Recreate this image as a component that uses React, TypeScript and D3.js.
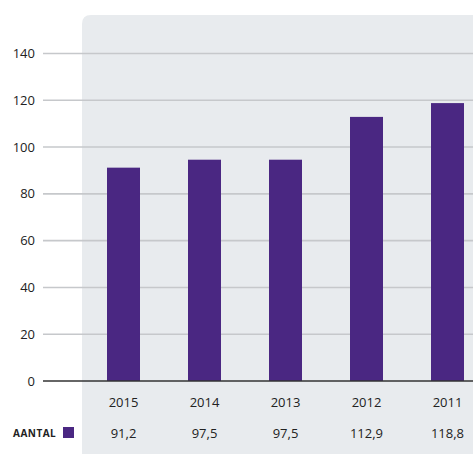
import React from "react";
import * as d3 from "d3";

const years = ["2015", "2014", "2013", "2012", "2011"];
const barValues = [91.2, 94.6, 94.6, 112.9, 118.8];
const valueLabels = ["91,2", "97,5", "97,5", "112,9", "118,8"];
const yTicks = [0, 20, 40, 60, 80, 100, 120, 140];
const seriesName = "AANTAL";

const W = 473;
const H = 454;
const PURPLE = "#4a2782";
const FONT = "'Open Sans', sans-serif";

export default function App() {
  const x = d3
    .scaleBand<string>()
    .domain(years)
    .range([83, 488])
    .paddingInner(48 / 81)
    .paddingOuter(24 / 81);
  const y = d3.scaleLinear().domain([0, 140]).range([381, 53.5]);

  const px = 82;
  const py = 15;
  const r = 9;
  const panelPath = `M${px},${H} L${px},${py + r} Q${px},${py} ${px + r},${py} L${W},${py} L${W},${H} Z`;

  return (
    <svg
      width={W}
      height={H}
      style={{ position: "absolute", left: 0, top: 0, background: "#fff" }}
    >
      <path d={panelPath} fill="#e8ebee" />
      {yTicks.map((t) =>
        t === 0 ? null : (
          <line
            key={t}
            x1={43}
            x2={W}
            y1={y(t)}
            y2={y(t)}
            stroke="#c6c8cb"
            strokeWidth={1.6}
          />
        )
      )}
      {years.map((yr, i) => (
        <rect
          key={yr}
          x={x(yr)}
          y={y(barValues[i])}
          width={x.bandwidth()}
          height={y(0) - y(barValues[i])}
          fill={PURPLE}
        />
      ))}
      <line x1={43} x2={W} y1={y(0)} y2={y(0)} stroke="#333" strokeWidth={1.5} />
      {yTicks.map((t) => (
        <text
          key={t}
          x={35}
          y={y(t)}
          dy="0.35em"
          textAnchor="end"
          fontFamily={FONT}
          fontSize={13}
          fill="#222"
        >
          {t}
        </text>
      ))}
      {years.map((yr, i) => (
        <g key={yr}>
          <text
            x={(x(yr) as number) + x.bandwidth() / 2}
            y={407}
            textAnchor="middle"
            fontFamily={FONT}
            fontSize={13}
            fill="#222"
          >
            {yr}
          </text>
          <text
            x={(x(yr) as number) + x.bandwidth() / 2}
            y={438}
            textAnchor="middle"
            fontFamily={FONT}
            fontSize={13}
            fill="#222"
          >
            {valueLabels[i]}
          </text>
        </g>
      ))}
      <text
        x={13}
        y={436.5}
        fontFamily={FONT}
        fontSize={10}
        fontWeight="bold"
        fill="#222"
        letterSpacing={0.5}
      >
        {seriesName}
      </text>
      <rect x={63} y={427} width={11} height={11} fill={PURPLE} />
    </svg>
  );
}
